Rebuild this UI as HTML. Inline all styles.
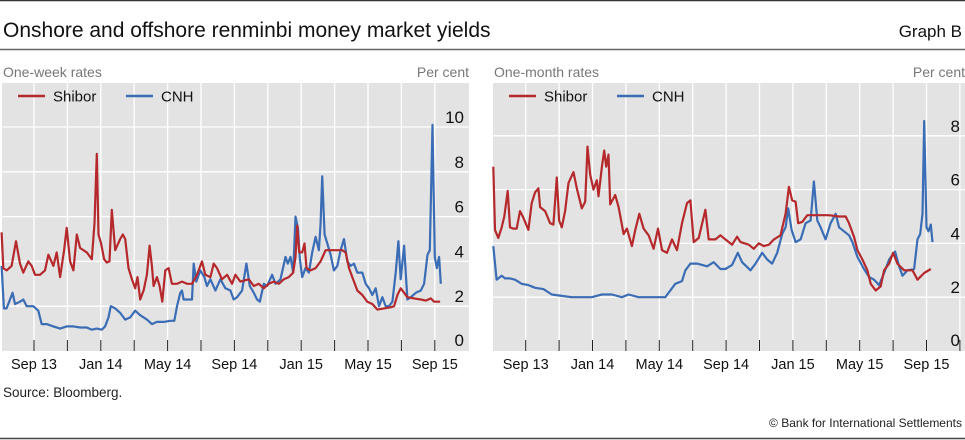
<!DOCTYPE html>
<html><head><meta charset="utf-8"><style>
body{margin:0;background:#fff;}
#root{position:relative;width:965px;height:440px;overflow:hidden;font-family:"Liberation Sans",Arial,sans-serif;}
svg text{font-family:"Liberation Sans",Arial,sans-serif;}
</style></head><body>
<div id="root">
<svg id="svg" width="965" height="440" viewBox="0 0 965 440">
<line x1="0" y1="0.5" x2="965" y2="0.5" stroke="#333" stroke-width="1.5"/>
<text x="3" y="37" font-size="21" fill="#111">Onshore and offshore renminbi money market yields</text>
<text x="962" y="37" font-size="17" fill="#111" text-anchor="end">Graph B</text>
<line x1="0" y1="49.5" x2="965" y2="49.5" stroke="#666" stroke-width="1.5"/>
<text x="3" y="397" font-size="13.5" fill="#222">Source: Bloomberg.</text>
<text x="962" y="427" font-size="12" fill="#222" text-anchor="end">© Bank for International Settlements</text>
<line x1="0" y1="438.5" x2="965" y2="438.5" stroke="#444" stroke-width="1.5"/>
</svg>
</div>
<script>
// One-week panel data (months since Sep 2013)
const wkShiborDates=[-1.94,-1.84,-1.64,-1.34,-1.08,-0.84,-0.64,-0.34,-0.14,0.06,0.36,0.66,0.86,1.16,1.36,1.56,1.80,1.96,2.16,2.36,2.56,2.76,3.16,3.46,3.62,3.76,3.86,4.02,4.2,4.36,4.52,4.66,4.86,5.16,5.32,5.46,5.66,5.86,6.06,6.2,6.36,6.56,6.76,6.92,7.06,7.16,7.36,7.52,7.68,7.86,8.06,8.26,8.56,8.86,9.16,9.46,9.76,10.06,10.26,10.56,10.76,10.96,11.26,11.56,11.86,12.06,12.36,12.86,13.16,13.46,13.76,14.06,14.36,14.66,14.96,15.26,15.52,15.66,15.76,15.88,16.06,16.2,16.32,16.56,16.86,17.16,17.46,17.76,18.16,18.46,18.66,18.86,19.06,19.36,19.66,19.96,20.26,20.56,20.96,21.36,21.56,21.76,21.96,22.16,22.36,22.76,23.16,23.46,23.76,23.96,24.32];
const wkShiborValues=[5.3,3.7,3.6,3.8,4.9,3.9,3.5,4.0,3.8,3.4,3.4,3.6,4.3,3.8,4.4,3.3,4.5,5.5,4.0,3.6,5.2,4.6,4.4,4.1,5.7,8.8,5.2,4.8,4.1,3.95,4.0,6.3,4.5,5.0,5.2,5.0,3.7,3.2,2.8,3.3,2.3,2.7,3.4,4.7,3.8,2.9,3.3,2.9,2.2,3.6,3.7,3.0,3.0,3.1,3.0,3.0,3.4,4.0,3.4,3.3,3.9,3.7,3.2,3.4,3.0,3.4,3.1,3.2,2.9,3.0,2.8,3.0,3.1,3.0,3.2,3.3,3.5,4.2,5.6,4.4,4.4,4.8,3.7,3.6,3.7,4.0,4.5,4.5,4.5,4.5,4.4,3.7,3.3,2.7,2.5,2.2,2.1,1.85,1.9,1.95,2.0,2.5,2.8,2.6,2.4,2.35,2.3,2.25,2.35,2.2,2.2];
const wkCnhDates=[-1.94,-1.8,-1.64,-1.44,-1.28,-1.14,-0.84,-0.64,-0.44,-0.04,0.26,0.46,0.76,1.16,1.56,1.96,2.36,2.76,3.16,3.46,3.76,4.06,4.26,4.46,4.6,4.86,5.16,5.46,5.76,6.06,6.36,6.76,7.06,7.36,7.76,8.16,8.4,8.56,8.76,8.86,8.96,9.16,9.46,9.56,9.72,9.96,10.2,10.36,10.56,10.86,11.16,11.46,11.76,11.96,12.16,12.46,12.72,12.92,13.16,13.36,13.52,13.76,13.96,14.26,14.46,14.76,15.06,15.2,15.36,15.52,15.66,15.8,15.92,16.06,16.26,16.46,16.66,16.86,17.06,17.16,17.26,17.4,17.56,17.76,17.96,18.16,18.36,18.56,18.76,18.96,19.16,19.36,19.66,19.86,20.06,20.26,20.46,20.66,20.86,21.06,21.26,21.46,21.66,21.82,21.96,22.16,22.36,22.56,22.86,23.16,23.36,23.56,23.7,23.86,24.0,24.12,24.26,24.36];
const wkCnhValues=[3.8,1.9,1.9,2.3,2.6,2.1,2.2,2.3,2.0,2.0,1.8,1.2,1.2,1.1,1.0,1.1,1.1,1.05,1.05,0.95,1.0,0.95,1.1,1.5,2.0,1.9,1.7,1.4,1.5,1.8,1.6,1.4,1.2,1.3,1.3,1.35,1.35,2.0,2.6,2.7,2.3,2.3,2.3,3.9,3.1,3.6,3.3,2.9,3.2,2.7,3.2,2.8,2.7,2.3,2.4,2.7,3.9,2.9,2.6,2.3,2.2,3.0,2.9,3.4,3.0,3.2,4.2,3.9,4.2,3.5,6.0,5.5,4.1,3.3,3.7,3.5,4.4,5.1,4.5,5.7,7.8,5.2,4.8,4.3,3.6,3.8,4.5,5.0,4.0,3.8,3.9,3.5,3.5,3.0,2.8,2.5,2.8,2.0,2.4,2.0,2.0,2.2,3.5,4.9,3.2,4.7,2.3,2.4,2.6,2.7,3.0,4.3,4.5,10.1,4.2,3.7,4.2,3.0];
// One-month panel data
const mnShiborDates=[-1.94,-1.84,-1.64,-1.44,-1.28,-1.08,-0.94,-0.74,-0.54,-0.34,-0.14,0.16,0.36,0.56,0.76,0.86,1.16,1.46,1.66,1.86,2.0,2.16,2.36,2.56,2.86,3.06,3.36,3.56,3.7,3.86,4.06,4.26,4.36,4.56,4.7,4.82,4.96,5.06,5.36,5.56,5.86,6.06,6.36,6.56,6.8,7.06,7.36,7.66,7.92,8.16,8.46,8.76,9.06,9.36,9.66,9.86,10.06,10.36,10.76,10.96,11.36,11.66,11.96,12.36,12.66,12.86,13.36,13.66,13.96,14.26,14.56,14.86,15.26,15.56,15.76,15.96,16.16,16.32,16.56,16.86,17.16,17.56,18.16,18.76,19.16,19.36,19.66,19.86,20.16,20.46,20.66,20.96,21.26,21.46,21.76,22.0,22.26,22.66,23.16,23.46,23.86,24.26];
const mnShiborValues=[6.85,4.5,4.2,4.6,5.0,5.95,4.6,4.55,4.55,5.2,4.95,4.5,5.5,5.9,6.05,5.35,5.2,4.75,4.7,6.45,4.85,4.6,5.2,6.25,6.65,6.05,5.3,5.55,7.6,6.55,6.0,6.35,5.75,6.85,7.45,6.85,7.3,5.45,5.8,5.35,4.35,4.55,3.9,4.5,5.1,4.55,4.3,3.8,4.55,3.75,3.65,4.15,3.75,4.75,5.5,5.6,4.05,4.2,5.25,4.15,4.15,4.3,4.15,3.95,4.25,4.05,3.95,3.8,4.0,3.9,3.95,4.15,4.3,5.1,6.1,5.6,5.55,4.75,4.8,5.05,5.05,5.05,5.05,5.0,5.0,4.75,4.25,3.75,3.4,3.0,2.5,2.25,2.4,3.0,3.25,3.65,3.25,3.0,3.0,2.65,2.9,3.05];
const mnCnhDates=[-1.94,-1.74,-1.44,-1.24,-0.94,-0.64,-0.24,0.16,0.56,1.06,1.56,2.16,2.76,3.36,3.96,4.56,5.16,5.76,6.16,6.76,7.56,8.36,8.66,8.96,9.36,9.56,9.86,10.26,10.56,10.86,11.26,11.66,11.96,12.36,12.7,12.96,13.46,13.76,14.16,14.46,14.76,15.06,15.36,15.56,15.72,15.92,16.16,16.46,16.76,17.06,17.26,17.46,17.66,17.96,18.26,18.56,18.76,19.06,19.36,19.56,19.86,20.26,20.56,20.86,21.16,21.46,21.76,22.12,22.36,22.56,22.86,23.26,23.46,23.62,23.76,23.86,24.0,24.12,24.26,24.36];
const mnCnhValues=[3.9,2.65,2.8,2.7,2.7,2.65,2.5,2.45,2.35,2.3,2.1,2.05,2.0,2.0,2.0,2.1,2.1,2.0,2.1,2.0,2.0,2.0,2.25,2.5,2.6,3.0,3.25,3.25,3.2,3.15,3.3,3.05,3.05,3.2,3.65,3.3,3.0,3.25,3.65,3.4,3.25,3.65,4.35,4.6,5.3,4.5,4.05,4.15,4.75,4.85,6.3,4.85,4.6,4.15,4.75,5.1,4.6,4.45,4.3,4.05,3.5,3.05,2.75,2.65,2.45,2.9,3.4,3.7,3.15,2.8,3.0,3.05,4.15,4.35,5.1,8.55,4.6,4.45,4.7,4.05];
const xTickLabels=["Sep 13","Jan 14","May 14","Sep 14","Jan 15","May 15","Sep 15"];
const wkYTicks=[0,2,4,6,8,10];
const mnYTicks=[0,2,4,6,8];

const NS="http://www.w3.org/2000/svg";
const svg=document.getElementById('svg');
function mk(tag,attrs,parent){const e=document.createElementNS(NS,tag);for(const k in attrs)e.setAttribute(k,attrs[k]);(parent||svg).appendChild(e);return e;}

function panel(cfg){
  const g=mk('g',{});
  
  
  const L=cfg.left,R=cfg.right,T=83,B=351;
  const xs=t=>cfg.x0+t*16.7;
  const ys=v=>B-v*cfg.unit;
  const bg=mk('rect',{x:L,y:T,width:R-L,height:B-T,fill:'#e3e3e3'},g);
  
  
  cfg.yticks.forEach(v=>{
    if(v>0){const l=mk('line',{x1:L,x2:R,y1:ys(v),y2:ys(v),stroke:'#fff','stroke-width':1.3},g);
      
      }
  });
  for(let i=-1;i<=13;i++){
    const x=xs(i*2);
    if(x<=L+1||x>=R-1)continue;
    const l=mk('line',{x1:x,x2:x,y1:T,y2:B,stroke:'#fff','stroke-width':1.3},g);
    
    
    if(i>=0){const tk=mk('line',{x1:x,x2:x,y1:B-11,y2:B,stroke:'#222','stroke-width':1},g);
      
      }
  }
  xTickLabels.forEach((s,i)=>{
    const t=mk('text',{x:xs(i*4),y:369,'font-size':14.5,'text-anchor':'middle',fill:'#111'},g);
    t.textContent=s;
    
    
  });
  cfg.yticks.forEach(v=>{
    const t=mk('text',{x:R-5,y:ys(v)-4+(v===0?-1:0),'font-size':17,'text-anchor':'end',fill:'#111'},g);
    t.textContent=v;
    
    
  });
  const st=mk('text',{x:L+1,y:77,'font-size':14,fill:'#777'},g);
  st.textContent=cfg.subtitle;
  
  
  const un=mk('text',{x:R,y:77,'font-size':14,fill:'#777','text-anchor':'end'},g);
  un.textContent='Per cent';
  
  
  const series=[[cfg.cd,cfg.cv,'#3a6db5','cnh-line'],[cfg.sd,cfg.sv,'#b5292c','shibor-line']];
  series.forEach(([d,v,c,n])=>{
    const pts=d.map((t,i)=>xs(t).toFixed(1)+','+ys(v[i]).toFixed(1)).join(' ');
    const p=mk('polyline',{points:pts,fill:'none',stroke:c,'stroke-width':2.2,'stroke-linejoin':'round'},g);
    
    
  });
  const lg=mk('g',{},g);
  
  
  [[0,'#b5292c','Shibor'],[108,'#3a6db5','CNH']].forEach(([dx,c,s])=>{
    const x=L+16+dx;
    const ln=mk('line',{x1:x,x2:x+27,y1:96,y2:96,stroke:c,'stroke-width':2.5},lg);
    
    
    const t=mk('text',{x:x+35,y:101.5,'font-size':15,fill:'#111'},lg);
    t.textContent=s;
    
    
  });
}
panel({name:'one-week-panel',left:2,right:469,x0:34,unit:22.4,yticks:wkYTicks,subtitle:'One-week rates',sd:wkShiborDates,sv:wkShiborValues,cd:wkCnhDates,cv:wkCnhValues});
panel({name:'one-month-panel',left:493,right:965,x0:525.7,unit:26.9,yticks:mnYTicks,subtitle:'One-month rates',sd:mnShiborDates,sv:mnShiborValues,cd:mnCnhDates,cv:mnCnhValues});
</script>
</body></html>
